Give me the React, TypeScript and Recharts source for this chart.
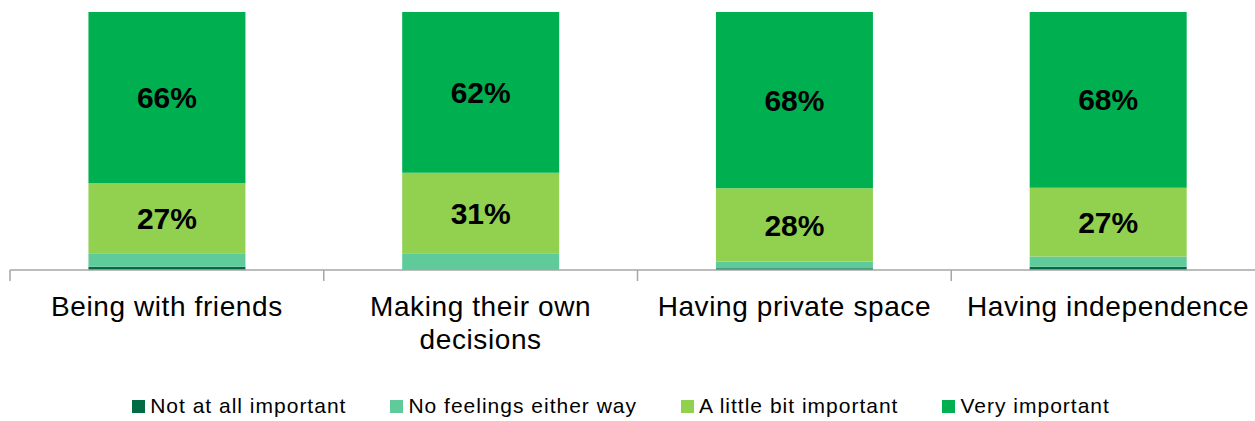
import React from 'react';
import { BarChart, Bar, XAxis, YAxis, Legend, LabelList } from 'recharts';

const categories = [
  'Being with friends',
  'Making their own decisions',
  'Having private space',
  'Having independence',
];
// how each category label is broken onto lines under the axis
const categoryLines: Record<string, string[]> = {
  'Being with friends': ['Being with friends'],
  'Making their own decisions': ['Making their own', 'decisions'],
  'Having private space': ['Having private space'],
  'Having independence': ['Having independence'],
};
const notAtAll = [1.3, 0, 0.7, 1.3];
const noFeelings = [5.2, 6.5, 2.6, 3.9];
const littleBit = [27.1, 31.2, 28.4, 26.7];
const veryImportant = [66.4, 62.3, 68.3, 68.1];

const FONT = '"Liberation Sans", Arial, sans-serif';
const AXIS_GREY = '#A6A6A6';

const series = [
  { key: 'notAtAll', name: 'Not at all important', color: '#006B45', showLabel: false },
  { key: 'noFeelings', name: 'No feelings either way', color: '#5FCA9A', showLabel: false },
  { key: 'littleBit', name: 'A little bit important', color: '#92D050', showLabel: true },
  { key: 'veryImportant', name: 'Very important', color: '#00B050', showLabel: true },
];

const data = categories.map((name, i) => ({
  name,
  notAtAll: notAtAll[i],
  noFeelings: noFeelings[i],
  littleBit: littleBit[i],
  veryImportant: veryImportant[i],
}));

function CategoryTick({ x, y, payload }: any) {
  const lines = categoryLines[payload.value] ?? [payload.value];
  return (
    <text
      x={x}
      y={y + 46}
      textAnchor="middle"
      fill="#000"
      style={{ fontSize: 28, fontFamily: FONT, letterSpacing: 0.6 }}
    >
      {lines.map((line, i) => (
        <tspan key={i} x={x} dy={i === 0 ? 0 : 33}>
          {line}
        </tspan>
      ))}
    </text>
  );
}

// tick marks sit on the category boundaries, not under the bars
function BoundaryTick({ x, y, payload, width, visibleTicksCount, index }: any) {
  const half = payload?.offset || width / (visibleTicksCount * 2);
  const left = x - half;
  const right = x + half;
  return (
    <g>
      <line x1={left} x2={left} y1={y} y2={y + 11} stroke={AXIS_GREY} strokeWidth={1.5} />
      {index === visibleTicksCount - 1 && (
        <line x1={right} x2={right} y1={y} y2={y + 11} stroke={AXIS_GREY} strokeWidth={1.5} />
      )}
    </g>
  );
}

function LegendContent() {
  return (
    <div
      style={{
        display: 'flex',
        justifyContent: 'center',
        alignItems: 'center',
        height: 30,
        gap: 44,
        fontFamily: FONT,
        fontSize: 21,
        letterSpacing: 1,
        color: '#000',
      }}
    >
      {series.map((s) => (
        <div key={s.key} style={{ display: 'flex', alignItems: 'center' }}>
          <span style={{ display: 'inline-block', width: 13, height: 13, background: s.color, marginRight: 5 }} />
          <span>{s.name}</span>
        </div>
      ))}
    </div>
  );
}

export default function App() {
  return (
    <div style={{ position: 'absolute', left: 0, top: 0, width: 1255, height: 421, overflow: 'hidden', background: '#fff' }}>
      <BarChart
        width={1272}
        height={421}
        data={data}
        barCategoryGap="25%"
        margin={{ top: 12, right: 7, left: 10, bottom: 0 }}
      >
        <XAxis
          dataKey="name"
          axisLine={{ stroke: AXIS_GREY, strokeWidth: 1.5 }}
          tickLine={false}
          tickSize={0}
          tickMargin={0}
          height={121}
          interval={0}
          tick={(props: any) => (
            <g>
              <BoundaryTick {...props} />
              <CategoryTick {...props} />
            </g>
          )}
        />
        <YAxis hide domain={[0, 100]} />
        <Legend
          verticalAlign="bottom"
          content={<LegendContent />}
          wrapperStyle={{ left: 0, width: 1242 }}
        />
        {series.map((s) => (
          <Bar
            key={s.key}
            dataKey={s.key}
            name={s.name}
            stackId="a"
            fill={s.color}
            isAnimationActive={false}
          >
            {s.showLabel && (
              <LabelList
                dataKey={s.key}
                position="center"
                formatter={(v: any) => `${Math.round(Number(v))}%`}
                fill="#000"
                style={{ fontSize: 30, fontWeight: 'bold', fontFamily: FONT }}
              />
            )}
          </Bar>
        ))}
      </BarChart>
    </div>
  );
}
